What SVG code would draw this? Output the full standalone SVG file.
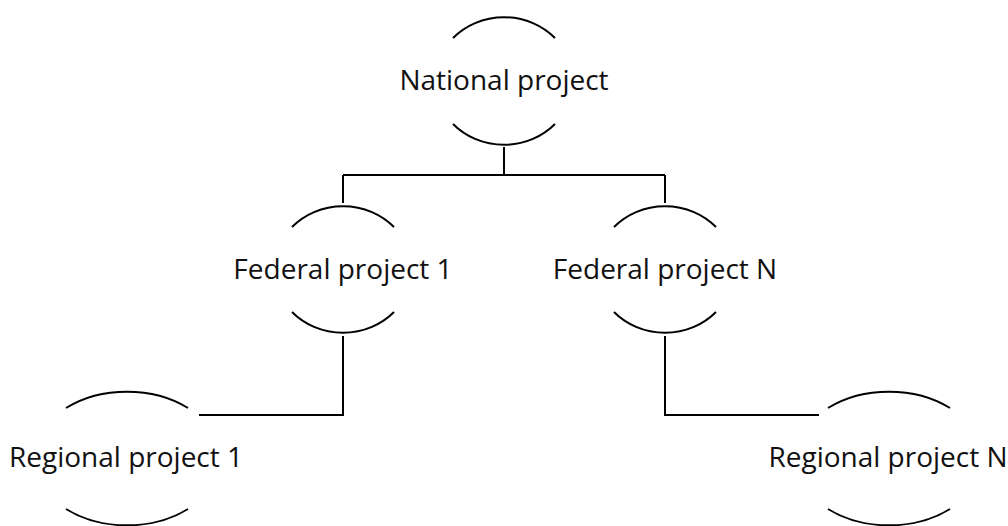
<svg xmlns="http://www.w3.org/2000/svg" width="1008" height="526" viewBox="0 0 1008 526">
<style>
.arc{fill:none;stroke:#000;stroke-width:2}
.con{fill:none;stroke:#000;stroke-width:2}
.lbl{font-family:"Open Sans","Liberation Sans",sans-serif;font-size:28px;fill:#111;text-anchor:middle}
</style>
<rect width="1008" height="526" fill="#fff"/>
<g id="connectors">
<path class="con" d="M504,147 V175 M343,175 H665 M343,175 V203 M665,175 V203"/>
<path class="con" d="M343,336 V415 H199"/>
<path class="con" d="M665,336 V415 H819"/>
</g>
<g id="national">
<path class="arc" d="M453,38 A70,66 0 0 1 555,38 M453,124 A70,66 0 0 0 555,124"/>
<text class="lbl" x="504" y="90">National project</text>
</g>
<g id="federal1">
<path class="arc" d="M292,227 A70,66 0 0 1 394,227 M292,312 A70,66 0 0 0 394,312"/>
<text class="lbl" x="343" y="279">Federal project 1</text>
</g>
<g id="federalN">
<path class="arc" d="M614,227 A70,66 0 0 1 716,227 M614,312 A70,66 0 0 0 716,312"/>
<text class="lbl" x="665" y="279">Federal project N</text>
</g>
<g id="regional1">
<path class="arc" d="M66,408 A93,66.5 0 0 1 188,408 M66,509 A93,66.5 0 0 0 188,509"/>
<text class="lbl" x="126" y="467">Regional project 1</text>
</g>
<g id="regionalN">
<path class="arc" d="M828,408 A93,66.5 0 0 1 950,408 M828,509 A93,66.5 0 0 0 950,509"/>
<text class="lbl" x="888" y="467">Regional project N</text>
</g>
</svg>
